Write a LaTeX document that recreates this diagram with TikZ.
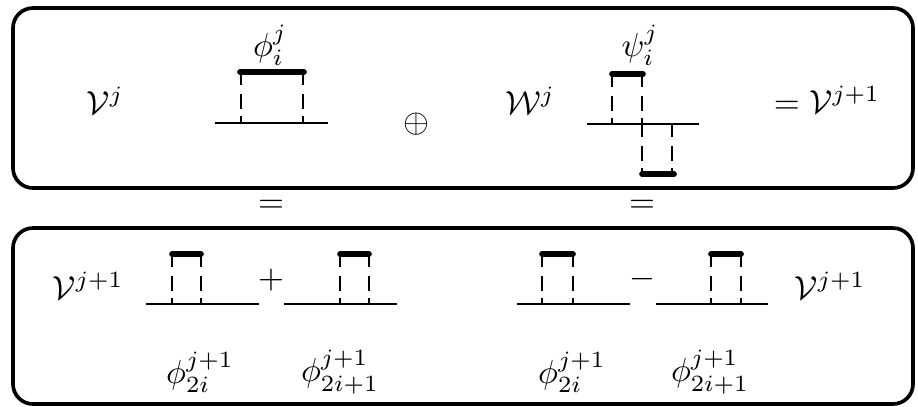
\documentclass[tikz,border=0pt]{standalone}
\usepackage{amsmath}
\begin{document}
\begin{tikzpicture}[x=0.3pt,y=-0.3pt,
  frame/.style={line width=1.1pt, rounded corners=6pt},
  base/.style={line width=0.55pt},
  vdash/.style={line width=0.55pt, dash pattern=on 4pt off 2.6pt on 4.5pt off 2.2pt on 3pt off 1pt},
  bar/.style={line width=1.7pt, line cap=round},
  lbl/.style={inner sep=0pt}]
\useasboundingbox (0,0) rectangle (918,406);
% frames
\draw[frame] (13,8) rectangle (913,188);
\draw[frame] (13,228) rectangle (913,404);
% top box texts
\node[lbl] (Vj) at (105,101) {$\mathcal{V}^{j}$};
\node[lbl] (phi) at (270,45) {$\phi_i^{j}$};
\node[lbl] (oplus) at (416,124) {$\oplus$};
\node[lbl] (Wj) at (530,101) {$\mathcal{W}^{j}$};
\node[lbl] (psi) at (640,45) {$\psi_i^{j}$};
\node[lbl] (eqV) at (827,100) {$=\mathcal{V}^{j+1}$};
% scaling function phi_i^j
\draw[base] (215,123) -- (328,123);
\draw[vdash] (241,72) -- (241,123);
\draw[vdash] (303,72) -- (303,123);
\draw[bar] (240,72) -- (304,72);
% wavelet psi_i^j
\draw[base] (587,124) -- (699,124);
\draw[vdash] (612,74) -- (612,124);
\draw[vdash] (642,74) -- (642,124);
\draw[vdash] (642,124) -- (642,174);
\draw[vdash] (672,124) -- (672,174);
\draw[bar] (612,74) -- (643,74);
\draw[bar] (642,174) -- (674,174);
% equals between boxes
\node[lbl] (eq1) at (271,206) {$=$};
\node[lbl] (eq2) at (642,206) {$=$};
% bottom box texts
\node[lbl] (V1) at (88,286) {$\mathcal{V}^{j+1}$};
\node[lbl] (plus) at (271,280) {$+$};
\node[lbl] (minus) at (642,279) {$-$};
\node[lbl] (V2) at (830,286) {$\mathcal{V}^{j+1}$};
\node[lbl] (l1) at (200,372) {$\phi_{2i}^{j+1}$};
\node[lbl] (l2) at (340,372) {$\phi_{2i+1}^{j+1}$};
\node[lbl] (l3) at (572,372) {$\phi_{2i}^{j+1}$};
\node[lbl] (l4) at (710,372) {$\phi_{2i+1}^{j+1}$};
% bottom pairs
\foreach \a/\b/\c/\d in {146/259/172/201, 284/397/340/369, 517/630/542/573, 656/768/711/741}{
  \draw[base] (\a,304) -- (\b,304);
  \draw[vdash] (\c,254) -- (\c,304);
  \draw[vdash] (\d,254) -- (\d,304);
  \draw[bar] (\c,254) -- (\d,254);
}
\end{tikzpicture}
\end{document}
